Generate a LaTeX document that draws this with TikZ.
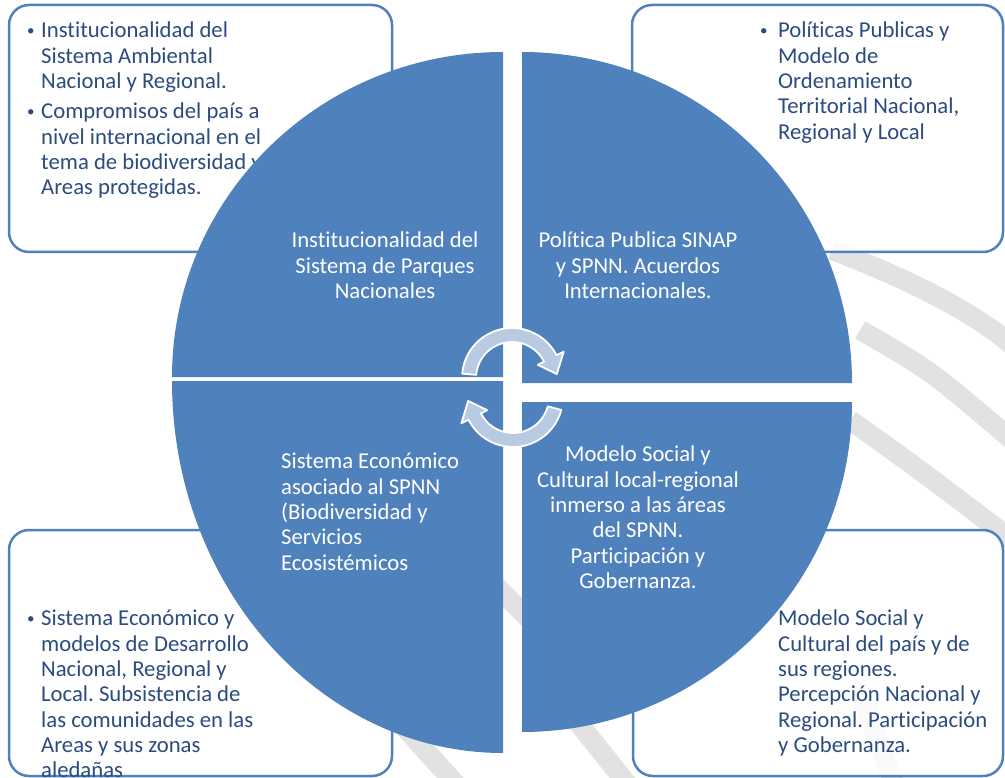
\documentclass[tikz,border=0pt]{standalone}
\usepackage{fontspec}
\setmainfont{Carlito}[Ligatures=NoCommon]
\usetikzlibrary{positioning}
\definecolor{Azure}{HTML}{4F81BD}
\definecolor{Ink}{HTML}{2B4C7E}
\definecolor{Haze}{HTML}{B9CAE3}
\definecolor{Ghost}{HTML}{E2E2E2}
\newcommand{\bul}{\raisebox{2pt}{\fontsize{15}{15}\selectfont\textbullet}}
\frenchspacing

\begin{document}
\begin{tikzpicture}[x=1pt,y=-1pt,
  frame/.style={draw=Azure,line width=2.5pt,rounded corners=20pt,fill=white,fill opacity=.85},
  quarter/.style={fill=Azure},
  outtxt/.style={text=Ink,font=\fontsize{22.7}{25.3}\selectfont,inner sep=0pt},
  intxt/.style={text=white,font=\fontsize{22.7}{25.3}\selectfont,inner sep=0pt},
  cyc/.style={fill=Haze,draw=white,line width=1.8pt,line join=round},
  ghost/.style={draw=Ghost,line width=20pt}]
\useasboundingbox (0,0) rectangle (1005,778);
\draw[ghost] (832,250) .. controls (910,280) and (970,310) .. (1012,345);
\draw[ghost] (860,330) .. controls (930,370) .. (1012,440);
\draw[ghost] (850,420) .. controls (920,470) .. (1012,540);
\draw[ghost] (470,560) -- (560,650);
\draw[ghost] (380,700) -- (470,800);
\draw[ghost] (560,700) -- (640,800);
\draw[ghost] (860,690) -- (900,800);
\draw[frame] (9,5) rectangle (392,252);
\draw[frame] (632,5) rectangle (1003,252);
\draw[frame] (9,530) rectangle (392,776);
\draw[frame] (633,530) rectangle (1003,776);
\node[outtxt,anchor=north west] (ambiental) at (27,20) {\begin{tabular}{@{}p{14pt}@{}l@{}}
  \bul&Institucionalidad del\\&Sistema Ambiental\\&Nacional y Regional.\\[5pt]
  \bul&Compromisos del país a\\&nivel internacional en el\\&tema de biodiversidad y\\&Areas protegidas.\end{tabular}};
\node[outtxt,anchor=north west] (ordenamiento) at (760,20) {\begin{tabular}{@{}p{18pt}@{}l@{}}
  \bul&Políticas Publicas y\\&Modelo de\\&Ordenamiento\\&Territorial Nacional,\\&Regional y Local\end{tabular}};
\node[outtxt,anchor=north west] (desarrollo) at (27,608) {\begin{tabular}{@{}p{14pt}@{}l@{}}
  \bul&Sistema Económico y\\&modelos de Desarrollo\\&Nacional, Regional y\\&Local. Subsistencia de\\&las comunidades en las\\&Areas y sus zonas\\&aledañas\end{tabular}};
\node[outtxt,align=left,anchor=north west] (percepcion) at (778,610) {Modelo Social y\\Cultural del país y de\\sus regiones.\\Percepción Nacional y\\Regional. Participación\\y Gobernanza.};
\fill[quarter] (172,377) arc[start angle=180,end angle=270,x radius=331,y radius=325] -- (503,377) -- cycle;
\fill[quarter] (522,52) arc[start angle=270,end angle=360,x radius=330,y radius=331] -- (522,383) -- cycle;
\fill[quarter] (852,402) arc[start angle=0,end angle=90,radius=330] -- (522,402) -- cycle;
\fill[quarter] (503,753) arc[start angle=90,end angle=180,x radius=331,y radius=372] -- (503,381) -- cycle;
\node[intxt,align=center,anchor=north] (parques) at (385,232) {Institucionalidad del\\Sistema de Parques\\Nacionales};
\node[intxt,align=center,anchor=north] (sinap) at (638,232) {Política Publica SINAP\\y SPNN. Acuerdos\\Internacionales.};
\node[intxt,align=left,anchor=north west] (economia) at (281,453) {Sistema Económico\\asociado al SPNN\\(Biodiversidad y\\Servicios\\Ecosistémicos};
\node[intxt,align=center,anchor=north] (social) at (638,446) {Modelo Social y\\Cultural local-regional\\inmerso a las áreas\\del SPNN.\\Participación y\\Gobernanza.};
\begin{scope}[shift={(512,378)}]
\filldraw[cyc] (-175:50) arc[start angle=-175,end angle=-27,radius=50] -- (-27:58) -- (-5:45) -- (-27:29) -- (-27:36) arc[start angle=-27,end angle=-175,radius=36] -- cycle;
\end{scope}
\begin{scope}[shift={(513,397)}]
\filldraw[cyc] (15:50) arc[start angle=15,end angle=153,radius=50] -- (153:58) -- (175:45) -- (153:29) -- (153:36) arc[start angle=153,end angle=15,radius=36] -- cycle;
\end{scope}
\end{tikzpicture}
\end{document}
